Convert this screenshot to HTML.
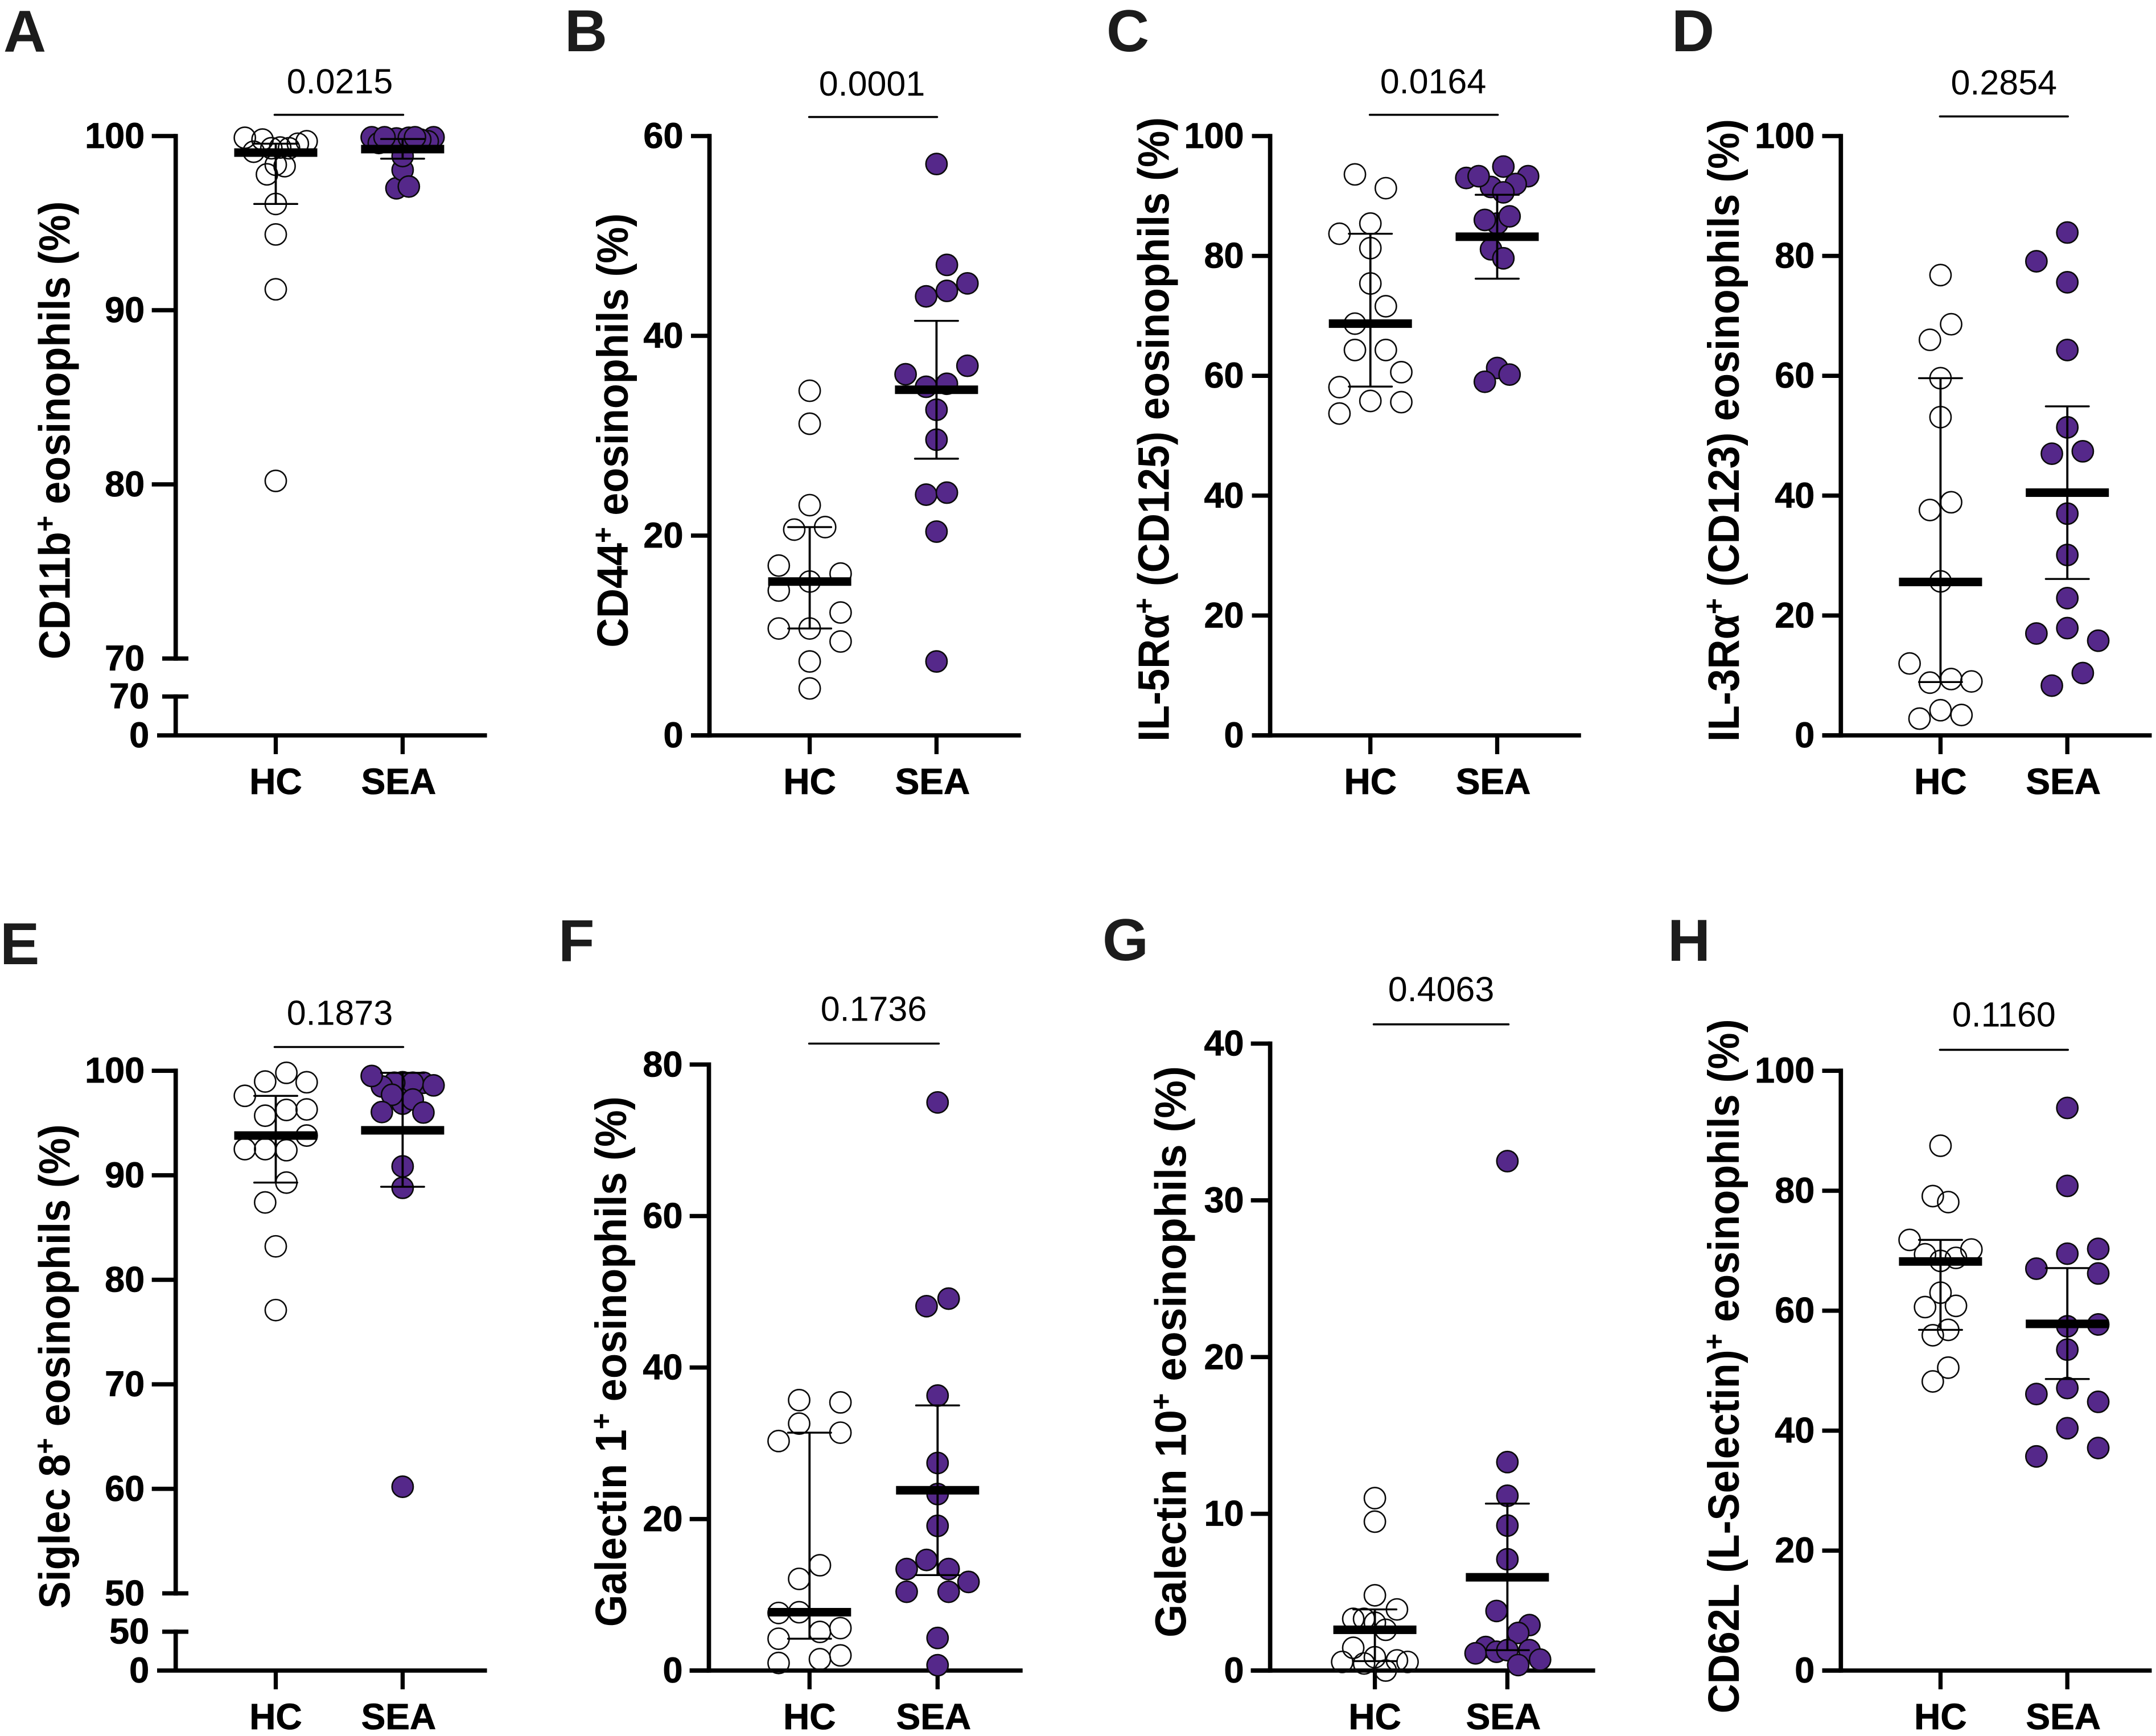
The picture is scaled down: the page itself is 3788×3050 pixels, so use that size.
<!DOCTYPE html>
<html lang="en">
<head>
<meta charset="utf-8">
<title>Eosinophil surface marker panels</title>
<style>
html,body{margin:0;padding:0;background:#fff;}
svg{display:block;font-family:"Liberation Sans",Arial,sans-serif;}
.letter{font-size:104px;font-weight:700;fill:#1c1c1c;}
.ytitle{font-size:77px;font-weight:700;fill:#000;}
.sup{font-size:52px;}
.pval{font-size:61px;fill:#000;text-anchor:middle;}
.bracket{stroke:#000;stroke-width:3.6;stroke-linecap:round;}
</style>
</head>
<body>
<svg id="figure" xmlns="http://www.w3.org/2000/svg" width="3788" height="3050" viewBox="0 0 3788 3050">
<rect width="3788" height="3050" fill="#fff"/>

<g id="panel-a">
<text class="letter" x="6" y="91">A</text>
<text class="ytitle" transform="translate(122.3,1158.5) rotate(-90)" textLength="805" lengthAdjust="spacingAndGlyphs">CD11b<tspan class="sup" dy="-26">+</tspan><tspan dy="26"> eosinophils (%)</tspan></text>
<text class="pval" x="597" y="164">0.0215</text>
<line class="bracket" x1="482.5" x2="708.4" y1="201.7" y2="201.7"/>
</g>

<g id="panel-b">
<text class="letter" x="992" y="90">B</text>
<text class="ytitle" transform="translate(1103,1137.8) rotate(-90)" textLength="763" lengthAdjust="spacingAndGlyphs">CD44<tspan class="sup" dy="-26">+</tspan><tspan dy="26"> eosinophils (%)</tspan></text>
<text class="pval" x="1532" y="167.8">0.0001</text>
<line class="bracket" x1="1421.6" x2="1646.4" y1="205.6" y2="205.6"/>
</g>

<g id="panel-c">
<text class="letter" x="1944" y="90">C</text>
<text class="ytitle" transform="translate(2053.5,1302.9) rotate(-90)" textLength="1097" lengthAdjust="spacingAndGlyphs">IL-5Rα<tspan class="sup" dy="-26">+</tspan><tspan dy="26"> (CD125) eosinophils (%)</tspan></text>
<text class="pval" x="2518" y="164">0.0164</text>
<line class="bracket" x1="2406.7" x2="2631.5" y1="201.7" y2="201.7"/>
</g>

<g id="panel-d">
<text class="letter" x="2937" y="90">D</text>
<text class="ytitle" transform="translate(3055,1303) rotate(-90)" textLength="1094" lengthAdjust="spacingAndGlyphs">IL-3Rα<tspan class="sup" dy="-26">+</tspan><tspan dy="26"> (CD123) eosinophils (%)</tspan></text>
<text class="pval" x="3520.8" y="165.8">0.2854</text>
<line class="bracket" x1="3408.4" x2="3633.2" y1="204.6" y2="204.6"/>
</g>

<g id="panel-e">
<text class="letter" x="0" y="1694">E</text>
<text class="ytitle" transform="translate(122.3,2826.3) rotate(-90)" textLength="851" lengthAdjust="spacingAndGlyphs">Siglec 8<tspan class="sup" dy="-26">+</tspan><tspan dy="26"> eosinophils (%)</tspan></text>
<text class="pval" x="597" y="1800.7">0.1873</text>
<line class="bracket" x1="482.5" x2="708.4" y1="1839.5" y2="1839.5"/>
</g>

<g id="panel-f">
<text class="letter" x="981" y="1689">F</text>
<text class="ytitle" transform="translate(1100,2858.2) rotate(-90)" textLength="932" lengthAdjust="spacingAndGlyphs">Galectin 1<tspan class="sup" dy="-26">+</tspan><tspan dy="26"> eosinophils (%)</tspan></text>
<text class="pval" x="1535" y="1793.7">0.1736</text>
<line class="bracket" x1="1421.6" x2="1649.4" y1="1833.5" y2="1833.5"/>
</g>

<g id="panel-g">
<text class="letter" x="1937" y="1687">G</text>
<text class="ytitle" transform="translate(2083.5,2877) rotate(-90)" textLength="1004" lengthAdjust="spacingAndGlyphs">Galectin 10<tspan class="sup" dy="-26">+</tspan><tspan dy="26"> eosinophils (%)</tspan></text>
<text class="pval" x="2532" y="1758.9">0.4063</text>
<line class="bracket" x1="2413.6" x2="2650.4" y1="1799.7" y2="1799.7"/>
</g>

<g id="panel-h">
<text class="letter" x="2930" y="1688">H</text>
<text class="ytitle" transform="translate(3055,3010.4) rotate(-90)" textLength="1220" lengthAdjust="spacingAndGlyphs">CD62L (L-Selectin)<tspan class="sup" dy="-26">+</tspan><tspan dy="26"> eosinophils (%)</tspan></text>
<text class="pval" x="3520.8" y="1803.6">0.1160</text>
<line class="bracket" x1="3408.4" x2="3633.2" y1="1844.4" y2="1844.4"/>
</g>
</svg>

<script>
// Categories
const categories = ['HC', 'SEA'];

// Panel A
const aHcValues = [99.9, 99.8, 99.1, 99.3, 99.34, 99.3, 99.56, 99.7, 98.35, 98.27, 97.8, 96.1, 94.35, 91.2, 80.2];
const aHcSlots = [-7, -3, -5, -1, 1, 3, 5, 7, 0, 2, -2, 0, 0, 0, 0];
const aSeaValues = [99.93, 99.7, 99.8, 99.8, 99.8, 99.93, 99.6, 99.86, 99.9, 97.0, 98.05, 97.1, 98.85, 99.93, 99.93];
const aSeaSlots = [7, 5.7, 0, -2.7, 4, -7, -5.4, -1.4, 1.4, -1.4, 0, 1.4, 0, -4.1, 2.8];
const aMedians = [99.05, 99.25];
const aUpper = [99.56, 99.83];
const aLower = [96.1, 98.7];
const aTicks = [100, 90, 80, 70];
const aLowerTicks = [70, 0];

// Panel B
const bHcValues = [34.5, 31.2, 23.05, 20.6, 20.85, 17, 16.2, 15.4, 14.5, 12.3, 10.7, 10.7, 9.4, 7.4, 4.7];
const bHcSlots = [0, 0, 0, -3.5, 3.5, -7, 7, 0, -7, 7, -7, 0, 7, 0, 0];
const bSeaValues = [57.2, 47.1, 45.25, 44.5, 43.95, 37, 36.15, 35.2, 34.9, 32.6, 29.6, 24.1, 24.3, 20.4, 7.4];
const bSeaSlots = [0, 2.35, 7, 2.35, -2.35, 7, -7, 2.35, -2.35, 0, 0, -2.35, 2.35, 0, 0];
const bMedians = [15.4, 34.6];
const bUpper = [20.85, 41.5];
const bLower = [10.7, 27.7];
const bTicks = [60, 40, 20, 0];

// Panel C
const cHcValues = [93.6, 91.3, 85.4, 83.7, 81.3, 75.4, 71.6, 68.7, 64.3, 64.3, 60.6, 58.1, 55.8, 55.6, 53.7];
const cHcSlots = [-3.5, 3.5, 0, -7, 0, 0, 3.5, -3.5, -3.5, 3.5, 7, -7, 0, 7, -7];
const cSeaValues = [93.3, 93, 92, 91.5, 93.3, 94.9, 90.6, 85.4, 86, 86.6, 81.1, 79.6, 61.3, 59, 60.2];
const cSeaSlots = [7, -7, 4.2, -1.4, -4.2, 1.4, 1.4, 0, -2.8, 2.8, -1.4, 1.4, 0, -2.8, 2.8];
const cMedians = [68.7, 83.2];
const cUpper = [83.7, 90.2];
const cLower = [58.2, 76.2];
const cTicks = [100, 80, 60, 40, 20, 0];

// Panel D
const dHcValues = [76.8, 68.6, 66, 59.6, 53.1, 38.9, 37.6, 25.7, 12, 8.8, 9.4, 9, 4.2, 3.4, 2.8];
const dHcSlots = [0, 2.4, -2.4, 0, 0, 2.4, -2.4, 0, -7, -2.4, 2.4, 7, 0, 4.75, -4.75];
const dSeaValues = [83.9, 79.1, 75.6, 64.3, 51.4, 47, 47.4, 37, 30.1, 22.9, 17.9, 17, 15.8, 10.4, 8.3];
const dSeaSlots = [0, -7, 0, 0, 0, -3.5, 3.5, 0, 0, 0, 0, -7, 7, 3.5, -3.5];
const dMedians = [25.6, 40.5];
const dUpper = [59.6, 54.9];
const dLower = [8.9, 26.1];
const dTicks = [100, 80, 60, 40, 20, 0];

// Panel E
const eHcValues = [99.8, 98.97, 98.9, 97.6, 95.7, 96.25, 96.3, 93.8, 92.5, 92.5, 92.4, 89.3, 87.4, 83.2, 77.1];
const eHcSlots = [2.4, -2.4, 7, -7, -2.4, 2.4, 7, 7, -7, -2.4, 2.4, 2.4, -2.4, 0, 0];
const eSeaValues = [98.9, 98.85, 98.85, 98.85, 98.5, 99.5, 98.6, 96.85, 97.25, 97.7, 96.05, 96, 90.85, 88.8, 60.2];
const eSeaSlots = [0, 4.7, 2.3, -1.9, -4.7, -7, 7, 0, 2.3, -2.4, -4.7, 4.7, 0, 0, 0];
const eMedians = [93.8, 94.3];
const eUpper = [97.6, 99.8];
const eLower = [89.3, 88.9];
const eTicks = [100, 90, 80, 70, 60, 50];
const eLowerTicks = [50, 0];

// Panel F
const fHcValues = [35.7, 35.4, 32.6, 31.4, 30.3, 13.9, 12.1, 7.6, 7.7, 4.2, 5.1, 5.6, 2, 1, 1.5];
const fHcSlots = [-2.35, 7, -2.35, 7, -7, 2.35, -2.35, -7, -2.35, -7, 2.35, 7, 7, -7, 2.35];
const fSeaValues = [75, 49.1, 48.1, 36.3, 27.4, 23.3, 19.1, 13.4, 14.6, 13.4, 11.7, 10.4, 10.4, 4.3, 0.7];
const fSeaSlots = [0, 2.5, -2.5, 0, 0, 0, 0, 2.5, -2.5, -7, 7, -7, 2.5, 0, 0];
const fMedians = [7.7, 23.8];
const fUpper = [31.4, 35];
const fLower = [4.2, 12.6];
const fTicks = [80, 60, 40, 20, 0];

// Panel G
const gHcValues = [11, 9.5, 4.8, 3.9, 3.3, 3.3, 3.05, 2.6, 1.45, 0.55, 0.45, 0.85, 0.65, 0.55, 0];
const gHcSlots = [0, 0, 0, 5, -2.45, -4.9, 0, 2.45, -4.9, -7.4, -2.45, 0, 5, 7.4, 2.45];
const gSeaValues = [32.5, 13.3, 11.15, 9.25, 7.1, 3.8, 2.9, 2.4, 1.5, 1.1, 1.2, 1.3, 1.3, 0.7, 0.35];
const gSeaSlots = [0, 0, 0, 0, 0, -2.45, 5, 2.45, -4.9, -7.2, -2.45, 0, 5, 7.4, 2.45];
const gMedians = [2.6, 5.95];
const gUpper = [3.9, 10.65];
const gLower = [0.6, 1.3];
const gTicks = [40, 30, 20, 10, 0];

// Panel H
const hHcValues = [87.5, 79.1, 78.1, 71.8, 70.2, 69.4, 68.8, 68.3, 63, 60.6, 60.8, 56.8, 55.9, 50.5, 48.2];
const hHcSlots = [0, -1.75, 1.75, -7, 7, -3.5, 3.5, 0, 0, -3.5, 3.5, 1.75, -1.75, 1.75, -1.75];
const hSeaValues = [93.8, 80.8, 70.3, 69.5, 67, 66.2, 57.4, 57.7, 53.5, 46.1, 47.1, 44.8, 40.4, 37.1, 35.7];
const hSeaSlots = [0, 0, 7, 0, -7, 7, 0, 7, 0, -7, 0, 7, 0, 7, -7];
const hMedians = [68.2, 57.8];
const hUpper = [71.8, 67.1];
const hLower = [56.8, 48.6];
const hTicks = [100, 80, 60, 40, 20, 0];

const SLOT_PX = 7.76;
const NS = 'http://www.w3.org/2000/svg';
const PURPLE = '#55288a';
const LABEL_SIZE = 63;
const CATEGORY_SIZE = 64;

function shape(parent, tag, attrs) {
  const el = document.createElementNS(NS, tag);
  for (const k in attrs) el.setAttribute(k, attrs[k]);
  parent.appendChild(el);
  return el;
}
function linearAxis(d0, d1, r0, r1) {
  return function (v) { return r0 + (v - d0) * (r1 - r0) / (d1 - d0); };
}

function drawPanel(p) {
  const root = document.getElementById(p.id);
  const y = linearAxis(p.min, p.max, p.yBottom, p.yTop);
  const xCenter = [p.hcX, p.seaX];
  const xPoint = function (g, slot) { return xCenter[g] + slot * SLOT_PX; };

  // y axis upper segment
  const axis = shape(root, 'line', { x1: p.axisX, x2: p.axisX, y1: p.yTop - 3.8, y2: p.lowerTicks ? p.yBottom + 3.8 : p.zeroY + 3.8, stroke: '#000', 'stroke-width': 7.7 });
  
  

  p.ticks.forEach(function (t) {
    const isBreak = p.lowerTicks && t === p.min;
    const tick = shape(root, 'line', { x1: isBreak ? p.axisX - 23.7 : p.axisX - p.tickLen, x2: isBreak ? p.axisX + 22.3 : p.axisX, y1: y(t), y2: y(t), stroke: '#000', 'stroke-width': 7.5 });
    
    
    const label = shape(root, 'text', { x: p.axisX - p.labelGap, y: y(t) + 21, 'font-size': LABEL_SIZE, 'font-weight': 700, 'text-anchor': 'end', fill: '#000', stroke: '#000', 'stroke-width': 0.8 });
    
    
    label.textContent = t;
  });

  // y axis lower segment below the break
  if (p.lowerTicks) {
    const yLow = linearAxis(0, p.min, p.zeroY, p.zeroY - 68.3);
    const low = shape(root, 'line', { x1: p.axisX, x2: p.axisX, y1: yLow(p.min) - 3.8, y2: p.zeroY, stroke: '#000', 'stroke-width': 7.7 });
    
    
    p.lowerTicks.forEach(function (t) {
      if (t !== 0) {
        const tick = shape(root, 'line', { x1: p.axisX - 23.7, x2: p.axisX + 22.3, y1: yLow(t), y2: yLow(t), stroke: '#000', 'stroke-width': 7.5 });
        
        
      }
      const label = shape(root, 'text', { x: p.axisX - 46.5, y: yLow(t) + 21, 'font-size': LABEL_SIZE, 'font-weight': 700, 'text-anchor': 'end', fill: '#000', stroke: '#000', 'stroke-width': 0.8 });
      
      
      label.textContent = t;
    });
  }

  // x axis
  const xAxis = shape(root, 'line', { x1: p.xStart, x2: p.xEnd, y1: p.zeroY, y2: p.zeroY, stroke: '#000', 'stroke-width': 7.5 });
  
  
  categories.forEach(function (cat, g) {
    const tick = shape(root, 'line', { x1: xCenter[g], x2: xCenter[g], y1: p.zeroY, y2: p.zeroY + 33, stroke: '#000', 'stroke-width': 7.3 });
    
    
    const label = shape(root, 'text', { x: xCenter[g] - (g === 1 ? 7 : 0), y: p.zeroY + 103, 'font-size': CATEGORY_SIZE, 'font-weight': 700, 'text-anchor': 'middle', fill: '#000', stroke: '#000', 'stroke-width': 0.8 });
    
    
    label.textContent = cat;
  });

  // series points
  const seriesVals = [p.hc, p.sea];
  const seriesSlots = [p.hcSlots, p.seaSlots];
  seriesVals.forEach(function (vals, g) {
    vals.forEach(function (v, i) {
      const c = shape(root, 'circle', {
        cx: xPoint(g, seriesSlots[g][i]), cy: y(v), r: 18.6,
        fill: g === 0 ? 'none' : PURPLE, stroke: '#0a0a0a', 'stroke-width': 2.6
      });
      
      
    });
  });

  // error bars and medians
  categories.forEach(function (cat, g) {
    const stem = shape(root, 'line', { x1: xCenter[g], x2: xCenter[g], y1: y(p.upper[g]), y2: y(p.lower[g]), stroke: '#000', 'stroke-width': 3.8 });
    
    
    [p.upper[g], p.lower[g]].forEach(function (w) {
      const cap = shape(root, 'line', { x1: xCenter[g] - 37.8, x2: xCenter[g] + 37.8, y1: y(w), y2: y(w), stroke: '#000', 'stroke-width': 3.4, 'stroke-linecap': 'round' });
      
      
    });
    const med = shape(root, 'rect', { x: xCenter[g] - 73, y: y(p.medians[g]) - 7.5, width: 146, height: 15, fill: '#000' });
    
    
  });
}

const panels = [
  { id: 'panel-a', axisX: 308.7, yTop: 239, yBottom: 1157, zeroY: 1292, max: 100, min: 70, hcX: 484.5, seaX: 707.4, xStart: 276, xEnd: 855.6, tickLen: 42, labelGap: 54.5, ticks: aTicks, lowerTicks: aLowerTicks, hc: aHcValues, hcSlots: aHcSlots, sea: aSeaValues, seaSlots: aSeaSlots, medians: aMedians, upper: aUpper, lower: aLower },
  { id: 'panel-b', axisX: 1246.5, yTop: 239, yBottom: 1292, zeroY: 1292, max: 60, min: 0, hcX: 1422.6, seaX: 1645.4, xStart: 1214, xEnd: 1793.7, tickLen: 32.5, labelGap: 46, ticks: bTicks, hc: bHcValues, hcSlots: bHcSlots, sea: bSeaValues, seaSlots: bSeaSlots, medians: bMedians, upper: bUpper, lower: bLower },
  { id: 'panel-c', axisX: 2231.6, yTop: 239, yBottom: 1292, zeroY: 1292, max: 100, min: 0, hcX: 2407.7, seaX: 2630.5, xStart: 2199.7, xEnd: 2777.8, tickLen: 32, labelGap: 46, ticks: cTicks, hc: cHcValues, hcSlots: cHcSlots, sea: cSeaValues, seaSlots: cSeaSlots, medians: cMedians, upper: cUpper, lower: cLower },
  { id: 'panel-d', axisX: 3234.3, yTop: 239, yBottom: 1292, zeroY: 1292, max: 100, min: 0, hcX: 3409.4, seaX: 3632.2, xStart: 3201.5, xEnd: 3780.5, tickLen: 32.8, labelGap: 46, ticks: dTicks, hc: dHcValues, hcSlots: dHcSlots, sea: dSeaValues, seaSlots: dSeaSlots, medians: dMedians, upper: dUpper, lower: dLower },
  { id: 'panel-e', axisX: 308.7, yTop: 1881.2, yBottom: 2799.4, zeroY: 2935, max: 100, min: 50, hcX: 484.5, seaX: 707.4, xStart: 276, xEnd: 855.6, tickLen: 42, labelGap: 54.5, ticks: eTicks, lowerTicks: eLowerTicks, hc: eHcValues, hcSlots: eHcSlots, sea: eSeaValues, seaSlots: eSeaSlots, medians: eMedians, upper: eUpper, lower: eLower },
  { id: 'panel-f', axisX: 1245.5, yTop: 1870.3, yBottom: 2935, zeroY: 2935, max: 80, min: 0, hcX: 1422.3, seaX: 1647.3, xStart: 1211.7, xEnd: 1796.7, tickLen: 33.8, labelGap: 46, ticks: fTicks, hc: fHcValues, hcSlots: fHcSlots, sea: fSeaValues, seaSlots: fSeaSlots, medians: fMedians, upper: fUpper, lower: fLower },
  { id: 'panel-g', axisX: 2231.6, yTop: 1833.5, yBottom: 2935, zeroY: 2935, max: 40, min: 0, hcX: 2415.6, seaX: 2648.4, xStart: 2197.7, xEnd: 2802.6, tickLen: 33.9, labelGap: 46, ticks: gTicks, hc: gHcValues, hcSlots: gHcSlots, sea: gSeaValues, seaSlots: gSeaSlots, medians: gMedians, upper: gUpper, lower: gLower },
  { id: 'panel-h', axisX: 3234.3, yTop: 1881.2, yBottom: 2935, zeroY: 2935, max: 100, min: 0, hcX: 3409.4, seaX: 3632.2, xStart: 3201.5, xEnd: 3780.5, tickLen: 32.8, labelGap: 46, ticks: hTicks, hc: hHcValues, hcSlots: hHcSlots, sea: hSeaValues, seaSlots: hSeaSlots, medians: hMedians, upper: hUpper, lower: hLower }
];
panels.forEach(drawPanel);
</script>
</body>
</html>
